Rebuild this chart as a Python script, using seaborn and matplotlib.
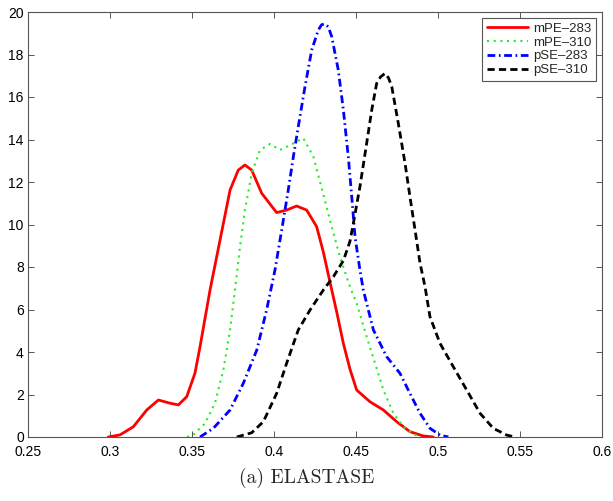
import matplotlib
matplotlib.use("Agg")
import matplotlib.pyplot as plt
import seaborn as sns
import pandas as pd

# Density estimates of the ELASTASE score for each group
mpe283_x = [0.299, 0.3061, 0.3142, 0.3224, 0.3295, 0.3366, 0.3417, 0.3468, 0.3518, 0.3549,
            0.361, 0.3671, 0.3732, 0.3782, 0.3823, 0.3864, 0.3925, 0.4016, 0.4077, 0.4138,
            0.4199, 0.426, 0.4301, 0.4341, 0.4382, 0.4423, 0.4463, 0.4504, 0.4585, 0.4667,
            0.4748, 0.4829, 0.491, 0.4971]
mpe283_y = [0.0, 0.1, 0.48, 1.27, 1.74, 1.59, 1.51, 1.9, 3.0, 4.25,
            6.92, 9.27, 11.62, 12.56, 12.8, 12.56, 11.47, 10.56, 10.68, 10.87,
            10.68, 9.9, 8.7, 7.3, 5.9, 4.4, 3.2, 2.21, 1.66, 1.27,
            0.72, 0.25, 0.05, 0.0]

mpe310_x = [0.347, 0.3508, 0.3579, 0.364, 0.3691, 0.3732, 0.3762, 0.3793, 0.3823, 0.3864,
            0.3915, 0.3976, 0.4037, 0.4098, 0.4179, 0.424, 0.4291, 0.4352, 0.4402, 0.4463,
            0.4504, 0.4565, 0.4616, 0.4667, 0.4728, 0.4788, 0.4849, 0.489]
mpe310_y = [0.0, 0.1, 0.64, 1.59, 3.15, 5.04, 6.92, 8.96, 10.68, 12.41,
            13.51, 13.79, 13.51, 13.74, 14.06, 13.19, 11.7, 9.9, 8.48, 7.07,
            6.29, 4.72, 3.47, 2.21, 1.12, 0.49, 0.14, 0.0]

pse283_x = [0.3549, 0.363, 0.3732, 0.3813, 0.3895, 0.3955, 0.4006, 0.4047, 0.4087, 0.4118,
            0.4148, 0.4189, 0.423, 0.427, 0.429, 0.4311, 0.4331, 0.4352, 0.4392, 0.4423,
            0.4453, 0.4474, 0.4494, 0.4524, 0.4545, 0.4606, 0.4687, 0.4768, 0.4829, 0.489,
            0.4951, 0.5012, 0.5063]
pse283_y = [0.0, 0.41, 1.27, 2.53, 4.09, 5.98, 7.86, 9.74, 11.62, 13.19,
            14.6, 16.49, 18.21, 19.15, 19.4, 19.44, 19.3, 18.84, 17.27, 15.39,
            13.19, 11.31, 9.43, 7.86, 6.9, 5.04, 3.78, 3.0, 2.05, 1.12,
            0.41, 0.09, 0.0]

pse310_x = [0.3773, 0.3864, 0.3935, 0.4016, 0.4077, 0.4148, 0.422, 0.4301, 0.4362, 0.4423,
            0.4463, 0.4484, 0.4524, 0.4565, 0.4596, 0.4626, 0.465, 0.4677, 0.4698, 0.4718,
            0.4758, 0.4799, 0.4829, 0.486, 0.489, 0.4921, 0.4951, 0.5012, 0.5093, 0.5175,
            0.5256, 0.5337, 0.5419, 0.547]
pse310_y = [0.0, 0.2, 0.72, 2.05, 3.47, 5.04, 5.98, 6.92, 7.54, 8.3,
            9.2, 10.06, 11.78, 13.82, 15.39, 16.64, 16.95, 17.11, 16.9, 16.49,
            14.76, 12.88, 11.31, 9.74, 8.2, 7.07, 5.66, 4.41, 3.31, 2.21,
            1.12, 0.41, 0.09, 0.0]

labels = ["mPE\u2013283", "mPE\u2013310", "pSE\u2013283", "pSE\u2013310"]
x_ticks = [0.25, 0.3, 0.35, 0.4, 0.45, 0.5, 0.55, 0.6]
x_tick_labels = ["0.25", "0.3", "0.35", "0.4", "0.45", "0.5", "0.55", "0.6"]
y_ticks = [0, 2, 4, 6, 8, 10, 12, 14, 16, 18, 20]
caption = "(a) ELASTASE"

sns.set_style("white")
plt.rcParams["font.family"] = ["Liberation Sans", "DejaVu Sans"]

fig = plt.figure(figsize=(6.13, 5.01), dpi=100)
ax = fig.add_axes([28 / 613, 1 - 437 / 501, 574 / 613, 425 / 501])

styles = [
    dict(color="#ff0000", linewidth=2.0, linestyle="-"),
    dict(color="#22ee22", linewidth=1.5, linestyle=(0, (1.0, 2.2))),
    dict(color="#0000ff", linewidth=2.0, linestyle=(0, (2.8, 1.3, 0.6, 1.3))),
    dict(color="#000000", linewidth=2.0, linestyle=(0, (2.6, 1.5))),
]
series = [(mpe283_x, mpe283_y), (mpe310_x, mpe310_y),
          (pse283_x, pse283_y), (pse310_x, pse310_y)]

for (xs, ys), lab, st in zip(series, labels, styles):
    df = pd.DataFrame({"x": xs, "y": ys})
    sns.lineplot(data=df, x="x", y="y", ax=ax, sort=False, estimator=None,
                 label=lab, solid_joinstyle="round", dash_joinstyle="round",
                 **st)

ax.set_xlim(0.25, 0.6)
ax.set_ylim(0, 20)
ax.set_xticks(x_ticks)
ax.set_xticklabels(x_tick_labels)
ax.set_yticks(y_ticks)
ax.set_xlabel("")
ax.set_ylabel("")

for sp in ax.spines.values():
    sp.set_visible(True)
    sp.set_color("#555555")
    sp.set_linewidth(0.8)

ax.tick_params(axis="both", which="both", direction="in", length=4, width=0.7,
               color="#555555", labelsize=10, labelcolor="black",
               top=True, right=True, bottom=True, left=True)
ax.tick_params(axis="x", pad=5.5)
ax.tick_params(axis="y", pad=3)

leg = ax.legend(loc="upper right", fontsize=9.5, frameon=True, fancybox=False,
                framealpha=1, edgecolor="#555555", handlelength=3.1,
                handletextpad=0.4, labelspacing=0.12, borderpad=0.35,
                borderaxespad=0.45)
leg.get_frame().set_linewidth(0.8)

fig.text(0.5, 1 - 478 / 501, caption, ha="center", va="center",
         fontsize=14, family="cmr10")

fig.savefig("out.png", dpi=100)
